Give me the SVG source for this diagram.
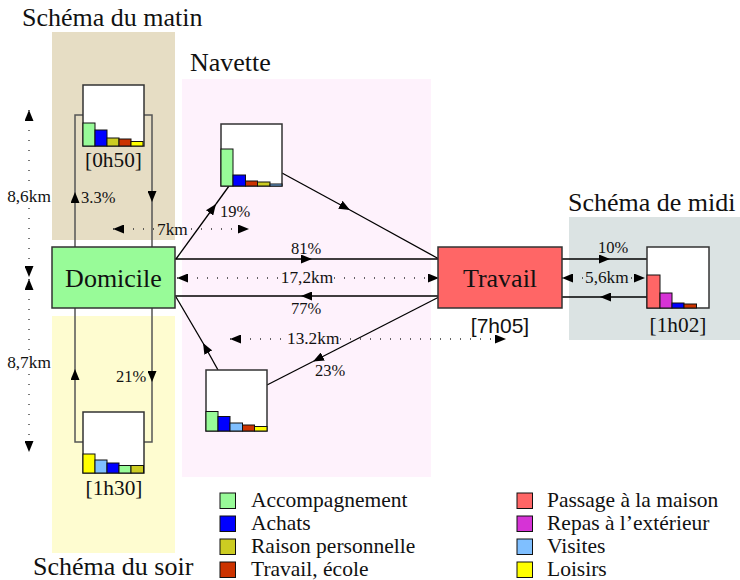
<svg xmlns="http://www.w3.org/2000/svg" width="740" height="580" viewBox="0 0 740 580">
<style>
text{font-family:"Liberation Serif","Times New Roman",serif;fill:#111}
.title{font-size:26px}
.node{font-size:26px}
.time{font-size:21.3px}
.dist{font-size:17.3px}
.pct{font-size:16.5px}
.leg{font-size:21.5px}
.box{fill:#fff;stroke:#333;stroke-width:1.5}
.bar{stroke:#111;stroke-width:1}
.ln{fill:none;stroke:#000;stroke-width:1.3}
.loop{fill:none;stroke:#555;stroke-width:1.5}
.dot{fill:none;stroke:#333;stroke-width:1.3;stroke-dasharray:1 9}
.g{fill:#98fb98}.b{fill:#0000ff}.o{fill:#cccc22}.r{fill:#cc3300}
.y{fill:#ffff00}.lb{fill:#7fbfff}.p{fill:#ff6666}.m{fill:#d633d6}
</style>
<defs>
<marker id="ah" viewBox="0 0 11 9" refX="11" refY="4.5" markerWidth="11" markerHeight="9" markerUnits="userSpaceOnUse" orient="auto-start-reverse">
<path d="M0,0 L11,4.5 L0,9 z" fill="#000"/>
</marker>
</defs>

<!-- backgrounds -->
<g id="backgrounds">
<rect x="52" y="32" width="123" height="208" fill="#e6ddc4"/>
<rect x="52" y="316" width="123" height="237" fill="#fefcd0"/>
<rect x="182" y="79" width="249" height="398" fill="#fef2fc"/>
<rect x="569" y="217" width="171" height="123" fill="#dbe3e3"/>
<text class="title" x="22" y="26">Schéma du matin</text>
<text class="title" x="190" y="71">Navette</text>
<text class="title" x="568" y="211">Schéma de midi</text>
<text class="title" x="33" y="575">Schéma du soir</text>
</g>

<!-- connectors -->
<g id="connectors">
<!-- morning loop -->
<polyline class="loop" points="75,247 75,115 83,115"/>
<polyline class="loop" points="144,115 152,115 152,247"/>
<line class="ln" x1="75" y1="210" x2="75" y2="192" marker-end="url(#ah)" stroke-opacity="0"/>
<line class="ln" x1="152" y1="185" x2="152" y2="202" marker-end="url(#ah)" stroke-opacity="0"/>
<text class="pct" x="81" y="203">3.3%</text>
<!-- evening loop -->
<polyline class="loop" points="75,308 75,442 83,442"/>
<polyline class="loop" points="144,442 152,442 152,308"/>
<line class="ln" x1="75" y1="390" x2="75" y2="369" marker-end="url(#ah)" stroke-opacity="0"/>
<line class="ln" x1="152" y1="360" x2="152" y2="382" marker-end="url(#ah)" stroke-opacity="0"/>
<text class="pct" x="116" y="382">21%</text>
<!-- 7km -->
<line class="dot" x1="113" y1="229" x2="155" y2="229" marker-start="url(#ah)"/>
<line class="dot" x1="191" y1="229" x2="249" y2="229" marker-end="url(#ah)"/>
<text class="dist" x="157" y="235">7km</text>
<!-- Domicile -> chart aller -->
<line class="ln" x1="176" y1="259" x2="216" y2="204" marker-end="url(#ah)"/>
<line class="ln" x1="216" y1="204" x2="229" y2="186"/>
<text class="pct" x="220" y="217">19%</text>
<!-- chart aller -> Travail -->
<line class="ln" x1="282" y1="173" x2="350" y2="210" marker-end="url(#ah)"/>
<line class="ln" x1="350" y1="210" x2="439" y2="259"/>
<!-- 81% -->
<line class="ln" x1="175" y1="259" x2="312" y2="259" marker-end="url(#ah)"/>
<line class="ln" x1="312" y1="259" x2="438" y2="259"/>
<text class="pct" x="306" y="254" text-anchor="middle">81%</text>
<!-- 17,2km -->
<line class="dot" x1="177" y1="278" x2="280" y2="278" marker-start="url(#ah)"/>
<line class="dot" x1="334" y1="278" x2="439" y2="278" marker-end="url(#ah)"/>
<text class="dist" x="307" y="283" text-anchor="middle">17,2km</text>
<!-- 77% -->
<line class="ln" x1="438" y1="296" x2="301" y2="296" marker-end="url(#ah)"/>
<line class="ln" x1="301" y1="296" x2="175" y2="296"/>
<text class="pct" x="306" y="314" text-anchor="middle">77%</text>
<!-- Travail -> chart retour -->
<line class="ln" x1="439" y1="297" x2="313" y2="361.5" marker-end="url(#ah)"/>
<line class="ln" x1="313" y1="361.5" x2="267" y2="385"/>
<text class="pct" x="315" y="376">23%</text>
<!-- chart retour -> Domicile -->
<line class="ln" x1="218" y1="370" x2="203" y2="343" marker-end="url(#ah)"/>
<line class="ln" x1="203" y1="343" x2="176" y2="297"/>
<!-- 13.2km -->
<line class="dot" x1="230" y1="339" x2="285" y2="339" marker-start="url(#ah)"/>
<line class="dot" x1="340" y1="339" x2="506" y2="339" marker-end="url(#ah)"/>
<text class="dist" x="287" y="344">13.2km</text>
<!-- midi -->
<line class="ln" x1="562" y1="259" x2="610" y2="259" marker-end="url(#ah)"/>
<line class="ln" x1="610" y1="259" x2="647" y2="259"/>
<text class="pct" x="598" y="253">10%</text>
<line class="ln" x1="647" y1="297" x2="600" y2="297" marker-end="url(#ah)"/>
<line class="ln" x1="600" y1="297" x2="562" y2="297"/>
<line class="dot" x1="562" y1="278" x2="583" y2="278" marker-start="url(#ah)"/>
<line class="dot" x1="631" y1="278" x2="645" y2="278" marker-end="url(#ah)"/>
<text class="dist" x="585" y="283">5,6km</text>
<!-- vertical dimensions -->
<line class="dot" x1="29" y1="110" x2="29" y2="186" marker-start="url(#ah)"/>
<line class="dot" x1="29" y1="208" x2="29" y2="277" marker-end="url(#ah)"/>
<text class="dist" x="29" y="202" text-anchor="middle">8,6km</text>
<line class="dot" x1="29" y1="279" x2="29" y2="352" marker-start="url(#ah)"/>
<line class="dot" x1="29" y1="374" x2="29" y2="452" marker-end="url(#ah)"/>
<text class="dist" x="29" y="368" text-anchor="middle">8,7km</text>
</g>

<!-- nodes -->
<g id="domicile">
<rect x="52" y="247" width="123" height="61" fill="#98fb98" stroke="#333" stroke-width="1.5"/>
<text class="node" x="113.5" y="287" text-anchor="middle">Domicile</text>
</g>
<g id="travail">
<rect x="438" y="247" width="124" height="61" fill="#ff6666" stroke="#333" stroke-width="1.5"/>
<text class="node" x="500" y="287" text-anchor="middle">Travail</text>
<text x="500" y="333" text-anchor="middle" style="font-family:'Liberation Sans',Arial,sans-serif;font-size:21px">[7h05]</text>
</g>
<g id="chart-matin">
<rect class="box" x="83" y="85" width="61" height="61"/>
<rect class="bar g" x="83" y="123" width="12" height="23"/>
<rect class="bar b" x="95" y="130" width="12" height="16"/>
<rect class="bar o" x="107" y="138" width="12" height="8"/>
<rect class="bar r" x="119" y="139" width="12" height="7"/>
<rect class="bar y" x="131" y="141.5" width="12" height="4.5"/>
<text class="time" x="113.5" y="167" text-anchor="middle">[0h50]</text>
</g>
<g id="chart-aller">
<rect class="box" x="221" y="124" width="61" height="62"/>
<rect class="bar g" x="221" y="149" width="12" height="37"/>
<rect class="bar b" x="233" y="175" width="12.5" height="11"/>
<rect class="bar r" x="245.5" y="181" width="12" height="5"/>
<rect class="bar o" x="257.5" y="182" width="12.5" height="4"/>
<rect class="bar lb" x="270" y="184" width="12" height="2"/>
</g>
<g id="chart-retour">
<rect class="box" x="206" y="370" width="61" height="61"/>
<rect class="bar g" x="206" y="411.5" width="12" height="19.5"/>
<rect class="bar b" x="218" y="416.5" width="12" height="14.5"/>
<rect class="bar lb" x="230" y="423" width="12.5" height="8"/>
<rect class="bar r" x="242.5" y="425" width="12" height="6"/>
<rect class="bar y" x="254.5" y="426.5" width="12.5" height="4.5"/>
</g>
<g id="chart-midi">
<rect class="box" x="647" y="247" width="62" height="61"/>
<rect class="bar p" x="647" y="275" width="13" height="33"/>
<rect class="bar m" x="660" y="293" width="12" height="15"/>
<rect class="bar b" x="672" y="303" width="12" height="5"/>
<rect class="bar r" x="684" y="304" width="12.5" height="4"/>
<text class="time" x="678" y="332" text-anchor="middle">[1h02]</text>
</g>
<g id="chart-soir">
<rect class="box" x="83" y="412" width="61" height="61"/>
<rect class="bar y" x="83" y="454" width="12" height="19"/>
<rect class="bar lb" x="95" y="460" width="12" height="13"/>
<rect class="bar b" x="107" y="463" width="12" height="10"/>
<rect class="bar g" x="119" y="465.5" width="12" height="7.5"/>
<rect class="bar o" x="131" y="465.5" width="12.5" height="7.5"/>
<text class="time" x="114" y="495" text-anchor="middle">[1h30]</text>
</g>

<!-- legend -->
<g id="legend">
<rect class="bar g" x="220" y="493" width="15.5" height="15.5"/>
<rect class="bar b" x="220" y="516" width="15.5" height="15.5"/>
<rect class="bar o" x="220" y="539" width="15.5" height="15.5"/>
<rect class="bar r" x="220" y="562" width="15.5" height="15.5"/>
<text class="leg" x="251" y="507">Accompagnement</text>
<text class="leg" x="251" y="530">Achats</text>
<text class="leg" x="251" y="553">Raison personnelle</text>
<text class="leg" x="251" y="576">Travail, école</text>
<rect class="bar p" x="517" y="493" width="15.5" height="15.5"/>
<rect class="bar m" x="517" y="516" width="15.5" height="15.5"/>
<rect class="bar lb" x="517" y="539" width="15.5" height="15.5"/>
<rect class="bar y" x="517" y="562" width="15.5" height="15.5"/>
<text class="leg" x="547" y="507">Passage à la maison</text>
<text class="leg" x="547" y="530">Repas à l’extérieur</text>
<text class="leg" x="547" y="553">Visites</text>
<text class="leg" x="547" y="576">Loisirs</text>
</g>
</svg>
